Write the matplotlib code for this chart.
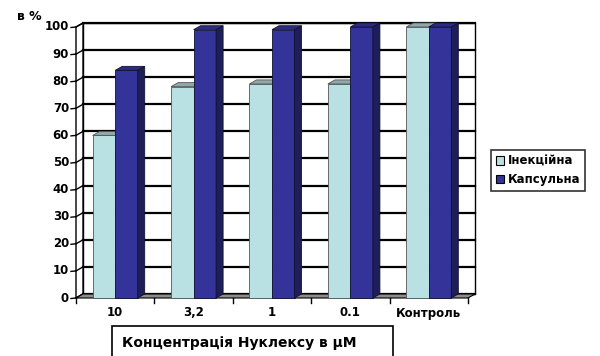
import matplotlib
matplotlib.use("Agg")
import matplotlib.pyplot as plt
from matplotlib.patches import Polygon, Rectangle

# Data
categories = ["10", "3,2", "1", "0.1", "Контроль"]
injection = [60, 78, 79, 79, 100]   # Інекційна
capsule = [84, 99, 99, 100, 100]    # Капсульна
series_names = ["Інекційна", "Капсульна"]
y_ticks = [0, 10, 20, 30, 40, 50, 60, 70, 80, 90, 100]
y_title = "в %"
x_title = "Концентрація Нуклексу в µM"

# Style
W, H = 600, 356
light_face, light_top = "#b9e1e4", "#8fa9a9"
dark_face, dark_top, dark_side = "#333399", "#2b2b86", "#1e1e58"
floor_color = "#8c8c8c"
font = "DejaVu Sans"

fig = plt.figure(figsize=(W / 100, H / 100), dpi=100)
fig.patch.set_facecolor("white")

# front plane of the 3D plot: x in [0, n] categories, y in [0, 100]
n = len(categories)
left_px, right_px, bottom_px, top_px = 76, 468, 298, 27
ax = fig.add_axes([left_px / W, (H - bottom_px) / H,
                   (right_px - left_px) / W, (bottom_px - top_px) / H])
ax.set_xlim(0, n)
ax.set_ylim(0, 100)
ax.axis("off")

px_x = n / (right_px - left_px)        # data units per pixel (x)
px_y = 100 / (bottom_px - top_px)      # data units per pixel (y)
dx, dy = 7 * px_x, 4 * px_y            # depth offset
ymax = y_ticks[-1]

def poly(pts, fc, ec="black", lw=0.8, z=1):
    ax.add_patch(Polygon(pts, closed=True, facecolor=fc, edgecolor=ec,
                         linewidth=lw, clip_on=False, zorder=z, joinstyle="miter"))

# back wall and left wall
poly([(dx, dy), (n + dx, dy), (n + dx, ymax + dy), (dx, ymax + dy)], "white", lw=1.0, z=1)
poly([(0, 0), (dx, dy), (dx, ymax + dy), (0, ymax)], "white", lw=1.0, z=1)
for v in y_ticks:
    ax.plot([dx, n + dx], [v + dy, v + dy], color="black", lw=1.6, clip_on=False, zorder=2)
    ax.plot([0, dx], [v, v + dy], color="black", lw=1.0, clip_on=False, zorder=2)
    ax.plot([-5 * px_x, 0], [v - 0.5 * px_y, v], color="black", lw=1.0, clip_on=False, zorder=2)
    ax.text(-7 * px_x, v, str(v), ha="right", va="center", fontsize=8.5,
            fontweight="bold", family=font, clip_on=False)

# floor
poly([(0, 0), (n, 0), (n + dx, dy), (dx, dy)], floor_color, lw=0.8, z=3)

# category tick marks
for i in range(n + 1):
    ax.plot([i, i], [0, -5 * px_y], color="black", lw=1.0, clip_on=False, zorder=3)

# bars
w = 0.287
bars_light = ax.bar([i + 0.5 - w / 2 for i in range(n)], injection, width=w,
                    color=light_face, edgecolor="#555555", linewidth=0.6,
                    zorder=5, clip_on=False, label=series_names[0])
for i, v in enumerate(injection):
    x0, x1 = i + 0.5 - w, i + 0.5
    poly([(x0, v), (x1, v), (x1 + dx, v + dy), (x0 + dx, v + dy)], light_top,
         ec="#555555", lw=0.6, z=5)

bars_dark = ax.bar([i + 0.5 + w / 2 for i in range(n)], capsule, width=w,
                   color=dark_face, edgecolor="#111133", linewidth=0.6,
                   zorder=6, clip_on=False, label=series_names[1])
for i, v in enumerate(capsule):
    x0, x1 = i + 0.5, i + 0.5 + w
    poly([(x0, v), (x1, v), (x1 + dx, v + dy), (x0 + dx, v + dy)], dark_top,
         ec="#111133", lw=0.6, z=6)
    poly([(x1, 0), (x1 + dx, dy), (x1 + dx, v + dy), (x1, v)], dark_side,
         ec="#111133", lw=0.6, z=6)

# category labels
for i, c in enumerate(categories):
    ax.text(i + 0.5, -15 * px_y, c, ha="center", va="center", fontsize=8.5,
            fontweight="bold", family=font, clip_on=False)

# y title
fig.text(17 / W, 1 - 17 / H, y_title, ha="left", va="center", fontsize=9,
         fontweight="bold", family=font)

# legend
leg = fig.legend(handles=[bars_light, bars_dark], labels=series_names,
                 loc="upper left", bbox_to_anchor=(491 / W, 1 - 150 / H),
                 frameon=True, fancybox=False, edgecolor="black",
                 prop={"family": font, "weight": "bold", "size": 8.5},
                 handlelength=0.7, handleheight=0.7, handletextpad=0.35,
                 borderpad=0.4, labelspacing=0.45, borderaxespad=0)
leg.get_frame().set_linewidth(1.2)
for hnd in leg.legend_handles:
    hnd.set_edgecolor("black")
    hnd.set_linewidth(0.8)

# x title in a box
fig.patches.append(Rectangle((112 / W, -0.05), (393 - 112) / W, 0.05 + (H - 326) / H,
                             transform=fig.transFigure, facecolor="white",
                             edgecolor="black", linewidth=1.2))
fig.text(122 / W, 1 - 343 / H, x_title, ha="left", va="center", fontsize=10,
         fontweight="bold", family=font)

fig.savefig("out.png", dpi=100)
